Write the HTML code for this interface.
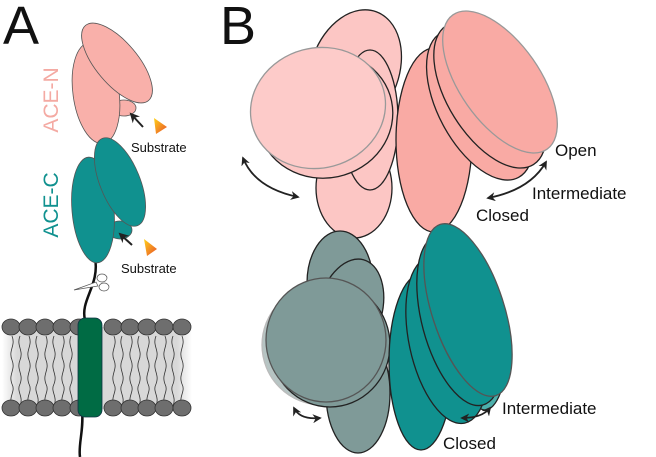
<!DOCTYPE html>
<html><head><style>body{margin:0;background:#fff}svg{display:block}text{font-family:"Liberation Sans",sans-serif}</style></head>
<body>
<svg width="656" height="457" viewBox="0 0 656 457" xmlns="http://www.w3.org/2000/svg">
<defs>
<marker id="ah" viewBox="0 0 10 10" refX="8" refY="5" markerWidth="5" markerHeight="5" orient="auto-start-reverse"><path d="M0,0 L10,5 L0,10 L3,5z" fill="#222"/></marker>
<linearGradient id="og" x1="0" y1="0" x2="1" y2="1"><stop offset="0" stop-color="#ffd21a"/><stop offset="1" stop-color="#e8502a"/></linearGradient>
<linearGradient id="lip" x1="0" x2="1"><stop offset="0" stop-color="#fff"/><stop offset="0.08" stop-color="#d8d8d8"/><stop offset="0.92" stop-color="#d8d8d8"/><stop offset="1" stop-color="#fff"/></linearGradient>
</defs>
<text x="3" y="44" font-size="54" fill="#111">A</text>
<text x="220" y="44" font-size="54" fill="#111">B</text>

<!-- Panel A -->
<path d="M95,258 C100,285 80,300 85,320 M82,410 C84,430 78,445 80,457" stroke="#111" stroke-width="2.5" fill="none"/>
<rect x="2" y="327" width="190" height="82" fill="url(#lip)"/>
<g stroke="#333" stroke-width="0.8" fill="none">
<path d="M20,336 c-4,10 4,14 0,24 c-4,10 4,14 0,24 c-4,8 4,12 0,22 M37,336 c-4,10 4,14 0,24 c-4,10 4,14 0,24 c-4,8 4,12 0,22 M54,336 c-4,10 4,14 0,24 c-4,10 4,14 0,24 c-4,8 4,12 0,22 M71,336 c-4,10 4,14 0,24 c-4,10 4,14 0,24 c-4,8 4,12 0,22 M122,336 c-4,10 4,14 0,24 c-4,10 4,14 0,24 c-4,8 4,12 0,22 M139,336 c-4,10 4,14 0,24 c-4,10 4,14 0,24 c-4,8 4,12 0,22 M156,336 c-4,10 4,14 0,24 c-4,10 4,14 0,24 c-4,8 4,12 0,22 M173,336 c-4,10 4,14 0,24 c-4,10 4,14 0,24 c-4,8 4,12 0,22 M12,336 c4,10 -4,14 0,24 c4,10 -4,14 0,24 c4,8 -4,12 0,22 M29,336 c4,10 -4,14 0,24 c4,10 -4,14 0,24 c4,8 -4,12 0,22 M46,336 c4,10 -4,14 0,24 c4,10 -4,14 0,24 c4,8 -4,12 0,22 M63,336 c4,10 -4,14 0,24 c4,10 -4,14 0,24 c4,8 -4,12 0,22 M114,336 c4,10 -4,14 0,24 c4,10 -4,14 0,24 c4,8 -4,12 0,22 M131,336 c4,10 -4,14 0,24 c4,10 -4,14 0,24 c4,8 -4,12 0,22 M148,336 c4,10 -4,14 0,24 c4,10 -4,14 0,24 c4,8 -4,12 0,22 M165,336 c4,10 -4,14 0,24 c4,10 -4,14 0,24 c4,8 -4,12 0,22 M182,336 c4,10 -4,14 0,24 c4,10 -4,14 0,24 c4,8 -4,12 0,22"/>
</g>
<g fill="#6e6e6e" stroke="#333" stroke-width="0.8">
<ellipse cx="11" cy="327" rx="9" ry="8"/><ellipse cx="28" cy="327" rx="9" ry="8"/><ellipse cx="45" cy="327" rx="9" ry="8"/><ellipse cx="62" cy="327" rx="9" ry="8"/><ellipse cx="79" cy="327" rx="9" ry="8"/><ellipse cx="113" cy="327" rx="9" ry="8"/><ellipse cx="130" cy="327" rx="9" ry="8"/><ellipse cx="147" cy="327" rx="9" ry="8"/><ellipse cx="164" cy="327" rx="9" ry="8"/><ellipse cx="182" cy="327" rx="9" ry="8"/>
<ellipse cx="11" cy="408" rx="9" ry="8"/><ellipse cx="28" cy="408" rx="9" ry="8"/><ellipse cx="45" cy="408" rx="9" ry="8"/><ellipse cx="62" cy="408" rx="9" ry="8"/><ellipse cx="79" cy="408" rx="9" ry="8"/><ellipse cx="113" cy="408" rx="9" ry="8"/><ellipse cx="130" cy="408" rx="9" ry="8"/><ellipse cx="147" cy="408" rx="9" ry="8"/><ellipse cx="164" cy="408" rx="9" ry="8"/><ellipse cx="182" cy="408" rx="9" ry="8"/>
</g>
<rect x="78" y="318" width="24" height="99" rx="7" fill="#006b44" stroke="#134" stroke-width="0.8"/>
<g stroke="#555" stroke-width="0.7" fill="#fff"><path d="M74,290 L96,282 L98,286 Z"/><ellipse cx="102" cy="278" rx="5" ry="4"/><ellipse cx="104" cy="287" rx="5" ry="4"/></g>

<g stroke="#555" stroke-width="0.8">
<ellipse cx="124" cy="108" rx="12" ry="8" fill="#f9b0aa"/>
<ellipse cx="96" cy="93" rx="23" ry="51" fill="#f9b0aa" transform="rotate(-8 96 93)"/>
<ellipse cx="117" cy="63" rx="21" ry="49" fill="#f9b0aa" transform="rotate(-40 117 63)"/>
<ellipse cx="120" cy="230" rx="12" ry="9" fill="#10918f"/>
<ellipse cx="93" cy="210" rx="21" ry="53" fill="#10918f" transform="rotate(-5 93 210)"/>
<ellipse cx="120" cy="182" rx="20" ry="47" fill="#10918f" transform="rotate(-22 120 182)"/>
</g>
<text transform="translate(58,100) rotate(-90)" font-size="21" fill="#f4aaa3" text-anchor="middle">ACE-N</text>
<text transform="translate(58,205) rotate(-90)" font-size="21" fill="#10918f" text-anchor="middle">ACE-C</text>
<path d="M143,127 L131,114" stroke="#222" stroke-width="2" marker-end="url(#ah)"/>
<path d="M132,245 L120,234" stroke="#222" stroke-width="2" marker-end="url(#ah)"/>
<path d="M154,118 L167,127 L156,134 Z" fill="url(#og)"/>
<path d="M144,239 L157,249 L147,256 Z" fill="url(#og)"/>
<text x="131" y="152" font-size="13" fill="#111">Substrate</text>
<text x="121" y="273" font-size="13" fill="#111">Substrate</text>

<g stroke="#222" stroke-width="1.3">
<ellipse cx="354" cy="188" rx="38" ry="50" fill="#fcc6c4"/>
<ellipse cx="355" cy="70" rx="44" ry="62" fill="#fcc6c4" transform="rotate(20 355 70)"/>
<ellipse cx="370" cy="120" rx="28" ry="70" fill="#fcc6c4"/>
<ellipse cx="325" cy="115" rx="68" ry="63" fill="#fcc6c4" transform="rotate(-12 325 115)"/>
<ellipse cx="318" cy="108" rx="68" ry="60" fill="#fdcbc9" stroke="#999" transform="rotate(-15 318 108)"/>
</g>
<g stroke="#222" stroke-width="1.3">
<ellipse cx="434" cy="140" rx="38" ry="92" fill="#f9aaa4"/>
<ellipse cx="480" cy="105" rx="42" ry="82" fill="#f9aaa4" transform="rotate(-28 480 105)"/>
<ellipse cx="490" cy="95" rx="42" ry="82" fill="#f9aaa4" transform="rotate(-32 490 95)"/>
<ellipse cx="500" cy="82" rx="40" ry="82" fill="#f9aaa4" stroke="#999" transform="rotate(-35 500 82)"/>
</g>
<g stroke="#222" stroke-width="1.3">
<ellipse cx="358" cy="393" rx="32" ry="60" fill="#7f9a98"/>
<ellipse cx="340" cy="283" rx="33" ry="52" fill="#7f9a98"/>
<ellipse cx="350" cy="310" rx="32" ry="52" fill="#7f9a98" transform="rotate(15 350 310)"/>
<ellipse cx="322" cy="345" rx="60" ry="60" fill="#b6c4c3" stroke="#bbb"/>
<ellipse cx="330" cy="345" rx="60" ry="62" fill="#7f9a98"/>
<ellipse cx="326" cy="340" rx="60" ry="62" fill="#7f9a98" stroke="#555"/>
</g>
<g stroke="#222" stroke-width="1.3">
<ellipse cx="485" cy="350" rx="22" ry="60" fill="#4db0ac"/>
<ellipse cx="421" cy="362" rx="32" ry="88" fill="#10918f"/>
<ellipse cx="447" cy="340" rx="38" ry="85" fill="#10918f" transform="rotate(-12 447 340)"/>
<ellipse cx="460" cy="320" rx="38" ry="88" fill="#10918f" transform="rotate(-15 460 320)"/>
<ellipse cx="468" cy="310" rx="36" ry="90" fill="#10918f" stroke="#555" transform="rotate(-18 468 310)"/>
</g>
<g stroke="#222" stroke-width="1.8" fill="none">
<path d="M243,158 Q255,188 298,197" marker-start="url(#ah)" marker-end="url(#ah)"/>
<path d="M488,198 Q530,190 546,162" marker-start="url(#ah)" marker-end="url(#ah)"/>
<path d="M294,408 Q300,420 320,418" marker-start="url(#ah)" marker-end="url(#ah)"/>
<path d="M462,418 Q482,418 490,408" marker-start="url(#ah)" marker-end="url(#ah)"/>
</g>
<text x="555" y="156" font-size="17" fill="#111">Open</text>
<text x="532" y="199" font-size="17" fill="#111">Intermediate</text>
<text x="476" y="221" font-size="17" fill="#111">Closed</text>
<text x="502" y="414" font-size="17" fill="#111">Intermediate</text>
<text x="443" y="449" font-size="17" fill="#111">Closed</text>
</svg>
</body></html>
